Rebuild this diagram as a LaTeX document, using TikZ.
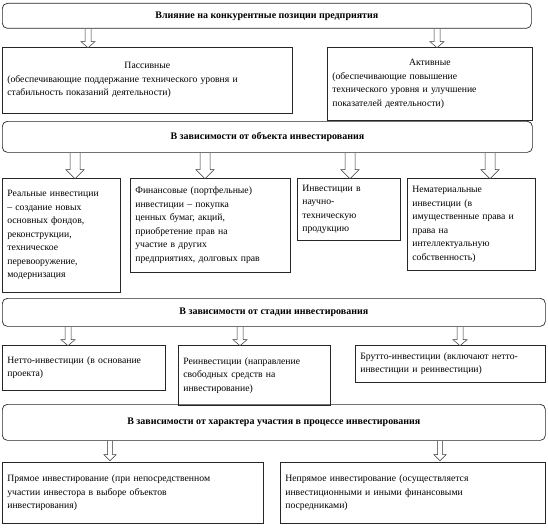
\documentclass[tikz,border=0pt]{standalone}
\usepackage{fontspec}
\setmainfont{Liberation Serif}
\usetikzlibrary{positioning}
\tikzset{
  head/.style={draw=black!85, rounded corners=5pt, line width=0.7pt, anchor=north west,
    inner sep=0pt, font=\bfseries\fontsize{10}{12}\selectfont},
  item/.style={draw=black!85, line width=0.7pt, anchor=north west, align=left,
    inner xsep=5pt, inner ysep=4pt, font=\fontsize{9.7}{13.5}\selectfont},
  pics/hollow/.style n args={4}{code={
    \draw[black!80, line width=0.5pt, fill=white] (-#1,0.5) -- (-#1,#3-#4) -- (-#2,#3-#4)
      -- (0,#3) -- (#2,#3-#4) -- (#1,#3-#4) -- (#1,0.5);}}
}
\begin{document}
\begin{tikzpicture}[x=1pt,y=-1pt]
\useasboundingbox (0,0) rectangle (548,527);

% level 1
\node[head, minimum width=529, minimum height=25] (infl) at (2,3)
  {Влияние на конкурентные позиции предприятия};
\node[item, minimum width=290, minimum height=66, text width=280] (pass) at (2,47)
  {\makebox[\hsize]{Пассивные}\\
   (обеспечивающие поддержание технического уровня и\\
   стабильность показаний деятельности)};
\node[item, minimum width=205, minimum height=73, text width=195] (act) at (327,47)
  {\makebox[\hsize]{Активные}\\
   (обеспечивающие повышение\\
   технического уровня и улучшение\\
   показателей деятельности)};
\foreach \x in {88,437}
  \pic at (infl.south -| \x,0) {hollow={3}{7}{19}{6}};

% level 2
\node[head, minimum width=530, minimum height=31] (obj) at (2,121)
  {В зависимости от объекта инвестирования};
\node[item, minimum width=118, minimum height=114, text width=108] (real) at (2,178)
  {Реальные инвестиции\\ – создание новых\\ основных фондов,\\ реконструкции,\\
   техническое\\ перевооружение,\\ модернизация};
\node[item, minimum width=160, minimum height=94, text width=150] (fin) at (130,178)
  {Финансовые (портфельные)\\ инвестиции – покупка\\ ценных бумаг, акций,\\
   приобретение прав на\\ участие в других\\ предприятиях, долговых прав};
\node[item, minimum width=103, minimum height=62, text width=93] (sci) at (297,178)
  {Инвестиции в\\ научно-\\ техническую\\ продукцию};
\node[item, minimum width=128, minimum height=92, text width=118] (intang) at (407,178)
  {Нематериальные\\ инвестиции (в\\ имущественные права и\\ права на\\
   интеллектуальную\\ собственность)};
\foreach \x in {75,205,350,490}
  \pic at (obj.south -| \x,0) {hollow={5}{9}{26}{9}};

% level 3
\node[head, minimum width=543, minimum height=28] (stage) at (2,298)
  {В зависимости от стадии инвестирования};
\node[item, minimum width=163, minimum height=45, text width=153] (netto) at (2,345)
  {Нетто-инвестиции (в основание\\ проекта)};
\node[item, minimum width=152, minimum height=60, text width=142] (reinv) at (178,345)
  {Реинвестиции (направление\\ свободных средств на\\ инвестирование)};
\node[item, minimum width=190, minimum height=37, text width=180] (brutto) at (355,345)
  {Брутто-инвестиции (включают нетто-\\ инвестиции и реинвестиции)};
\foreach \x in {68,240,460}
  \pic at (stage.south -| \x,0) {hollow={3}{7}{19}{6}};

% level 4
\node[head, minimum width=543, minimum height=36] (part) at (2,404)
  {В зависимости от характера участия в процессе инвестирования};
\node[item, minimum width=261, minimum height=61, text width=251] (direct) at (2,462)
  {Прямое инвестирование (при непосредственном\\ участии инвестора в выборе объектов\\
   инвестирования)};
\node[item, minimum width=265, minimum height=61, text width=255] (indirect) at (280,462)
  {Непрямое инвестирование (осуществляется\\ инвестиционными и иными финансовыми\\
   посредниками)};
\foreach \x in {110,440}
  \pic at (part.south -| \x,0) {hollow={2.5}{6}{20}{6}};
\end{tikzpicture}
\end{document}
